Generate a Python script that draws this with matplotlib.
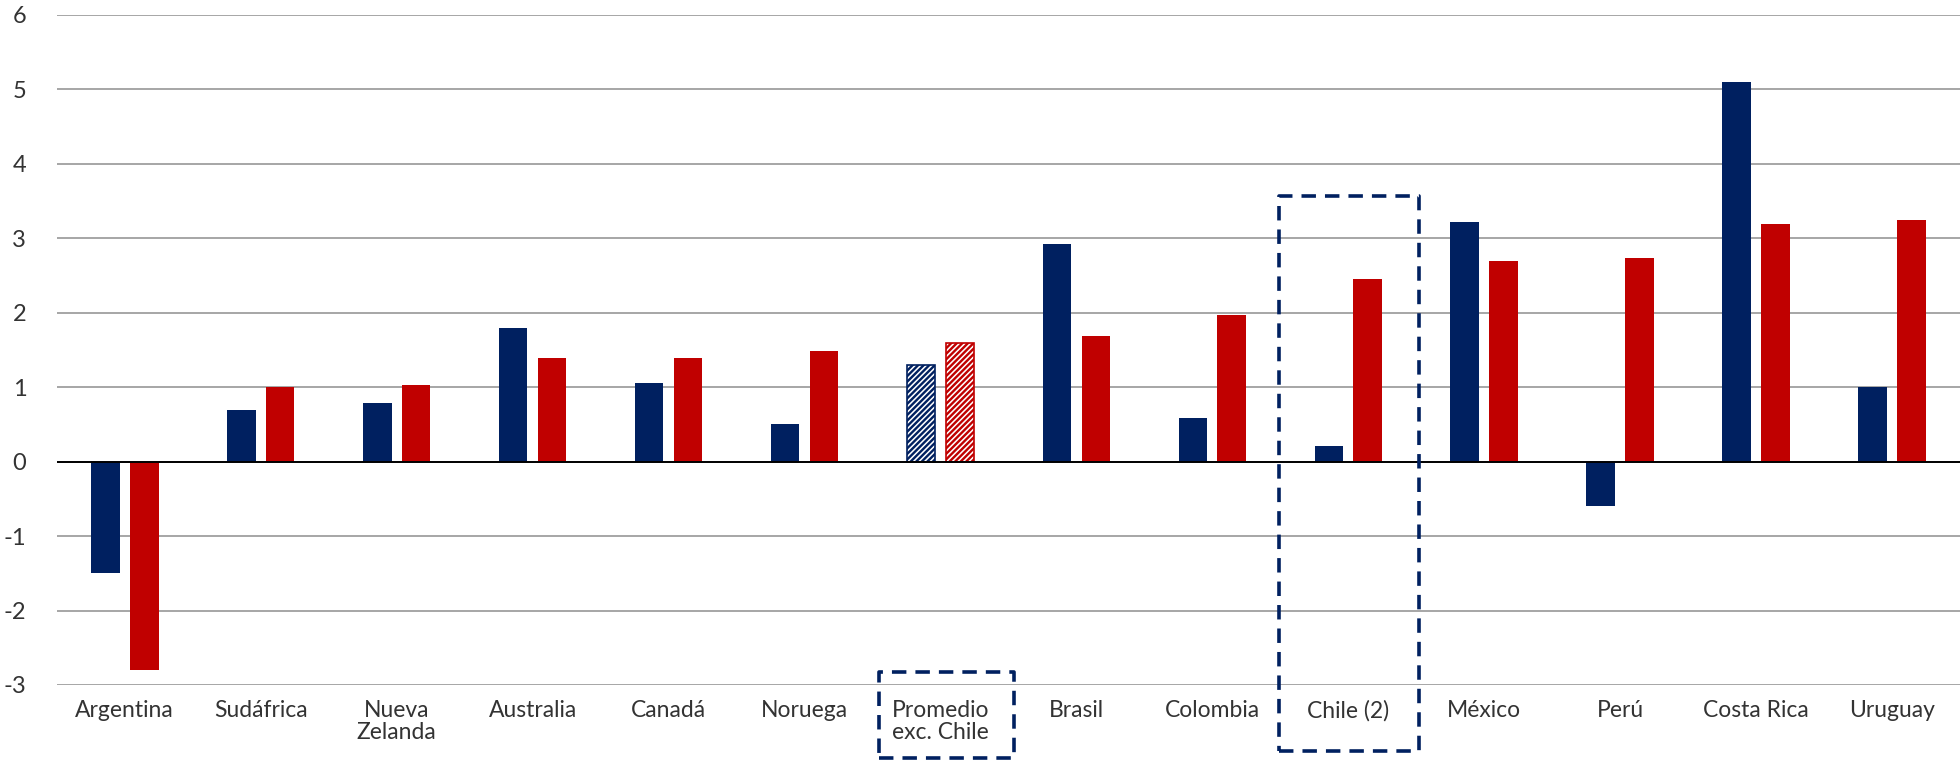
import matplotlib
matplotlib.use("Agg")
import matplotlib.pyplot as plt
from matplotlib.patches import Rectangle
import numpy as np

# data
categories = ["Argentina", "Sudáfrica", "Nueva\nZelanda", "Australia", "Canadá",
              "Noruega", "Promedio\nexc. Chile", "Brasil", "Colombia", "Chile (2)",
              "México", "Perú", "Costa Rica", "Uruguay"]
serie_azul = [-1.5, 0.69, 0.79, 1.79, 1.06, 0.51, 1.30, 2.93, 0.59, 0.21,
              3.22, -0.60, 5.10, 1.00]
serie_roja = [-2.8, 1.00, 1.03, 1.39, 1.39, 1.49, 1.59, 1.69, 1.97, 2.45,
              2.70, 2.74, 3.19, 3.25]
y_ticks = [-3, -2, -1, 0, 1, 2, 3, 4, 5, 6]
promedio_idx = 6
chile_idx = 9

AZUL = "#002060"
ROJO = "#C00000"
GRID = "#A6A6A6"
TEXTO = "#333333"

plt.rcParams["font.family"] = ["Lato", "DejaVu Sans"]
plt.rcParams["hatch.linewidth"] = 1.7

fig = plt.figure(figsize=(19.6, 7.6), dpi=100)
ax = fig.add_axes([0.029, 0.0987, 0.971, 0.8816])

x = np.arange(len(categories))
w = 0.21
off = 0.143
for i in x:
    hatched = i == promedio_idx
    for val, dx, col in ((serie_azul[i], -off, AZUL), (serie_roja[i], off, ROJO)):
        if hatched:
            ax.bar(i + dx, val, width=w, color="white", edgecolor=col,
                   hatch="//////", linewidth=1.2, zorder=3)
        else:
            ax.bar(i + dx, val, width=w, color=col, linewidth=0, zorder=3)

ax.set_xlim(-0.5, len(categories) - 0.5)
ax.set_ylim(-3, 6)
ax.set_yticks(y_ticks)
ax.set_yticklabels([str(t) for t in y_ticks], fontsize=17, color=TEXTO)
ax.set_xticks(x)
ax.set_xticklabels(categories, fontsize=16.5, color=TEXTO, linespacing=1.05)
ax.tick_params(axis="both", length=0)
ax.tick_params(axis="y", pad=22)
ax.tick_params(axis="x", pad=11)
for s in ax.spines.values():
    s.set_visible(False)
ax.yaxis.grid(True, color=GRID, linewidth=1.4, zorder=0)
ax.set_axisbelow(True)
ax.axhline(0, color="black", linewidth=1.4, zorder=4)

# dashed highlight boxes
ax.add_patch(Rectangle((promedio_idx - 0.45, -3.98), 0.99, 1.16, fill=False,
                       edgecolor=AZUL, linestyle=(0, (4, 2.5)), linewidth=2.6,
                       clip_on=False, zorder=5, joinstyle="round"))
ax.add_patch(Rectangle((chile_idx - 0.51, -3.885), 1.03, 7.455, fill=False,
                       edgecolor=AZUL, linestyle=(0, (4, 2.5)), linewidth=2.6,
                       clip_on=False, zorder=5, joinstyle="round"))

fig.savefig("out.png", dpi=100)
